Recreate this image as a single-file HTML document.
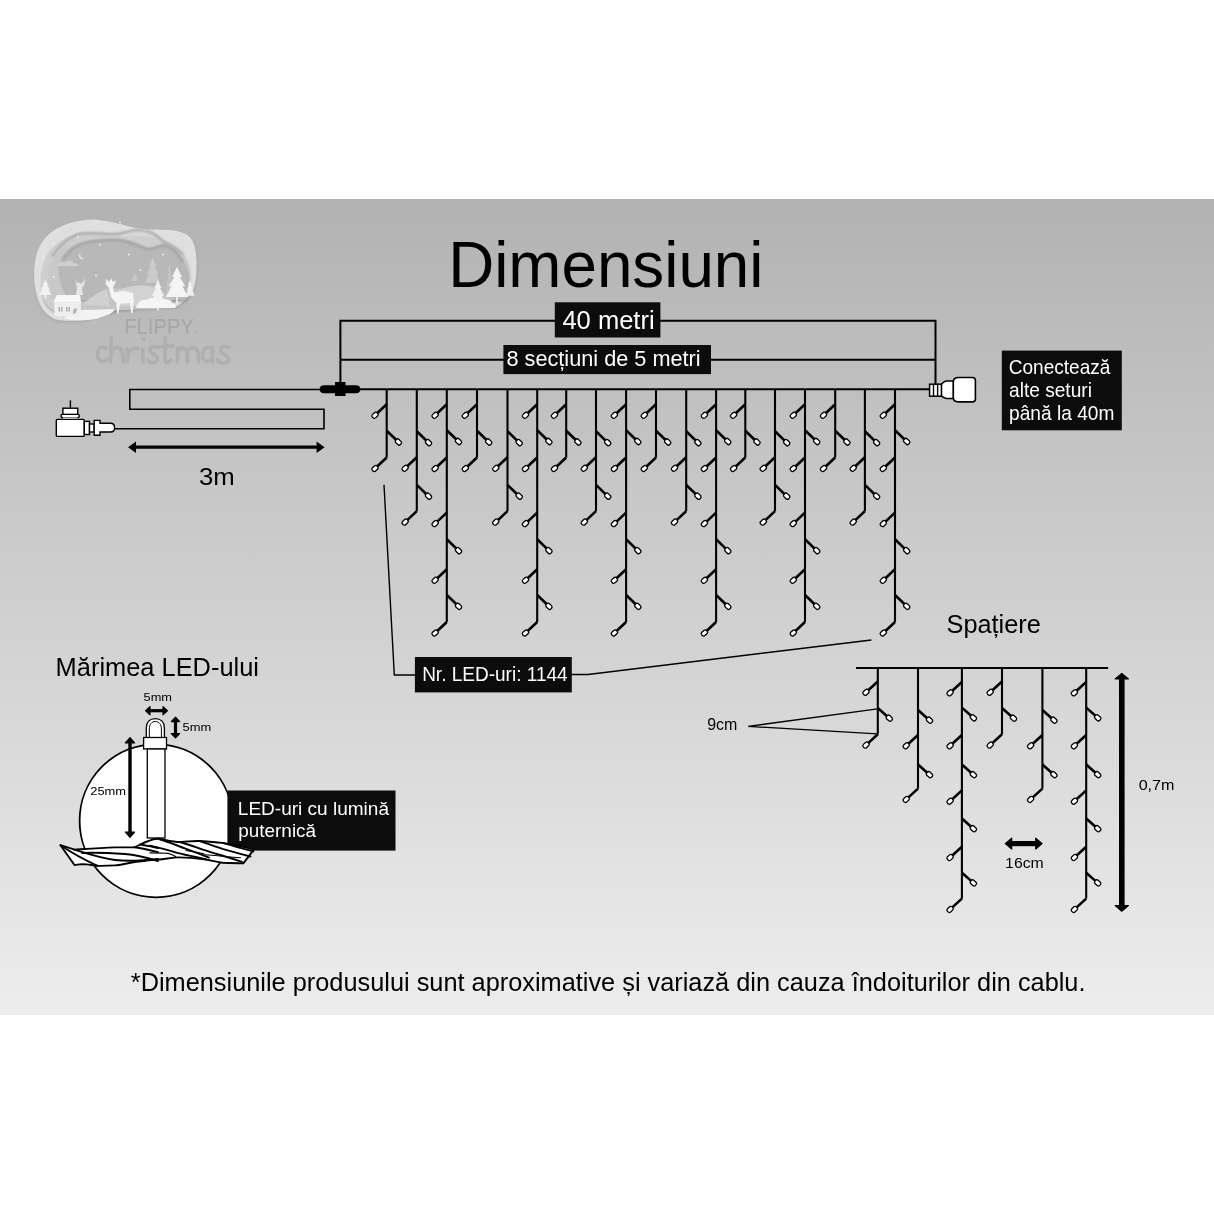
<!DOCTYPE html><html><head><meta charset="utf-8"><style>html,body{margin:0;padding:0;background:#fff;}svg{display:block;will-change:transform;}</style></head><body><svg width="1214" height="1214" viewBox="0 0 1214 1214"><defs><linearGradient id="bg" x1="0" y1="0" x2="0" y2="1"><stop offset="0" stop-color="#b2b2b2"/><stop offset="1" stop-color="#ededed"/></linearGradient><filter id="sh" x="-20%" y="-20%" width="140%" height="140%"><feGaussianBlur stdDeviation="1.5"/></filter><filter id="sh2" x="-10%" y="-50%" width="120%" height="200%"><feGaussianBlur stdDeviation="0.9"/></filter></defs><rect x="0" y="0" width="1214" height="1214" fill="#fff"/><rect x="0" y="199" width="1214" height="816" fill="url(#bg)"/><g><path d="M58 320 C48 318 40 308 37 296 C33 283 33 262 38 250 C42 240 48 234 56 229 C66 223 80 219.4 92 219.4 C102 219.4 112 222 120 224 C130 227 140 229 152 229.5 C165 229.8 180 229 189 236.2 C194 241 196 249 196.5 260 C197 272 196 284 193 290 C191 294 190 296 185 300 C180 305 176 307.5 170 307.8 L120 309 C110 312 96 318 84 320 C74 321 64 321 58 320 Z" fill="#8a8a8a" opacity="0.45" transform="translate(0.6 1.2)" filter="url(#sh)"/><path d="M58 320 C48 318 40 308 37 296 C33 283 33 262 38 250 C42 240 48 234 56 229 C66 223 80 219.4 92 219.4 C102 219.4 112 222 120 224 C130 227 140 229 152 229.5 C165 229.8 180 229 189 236.2 C194 241 196 249 196.5 260 C197 272 196 284 193 290 C191 294 190 296 185 300 C180 305 176 307.5 170 307.8 L120 309 C110 312 96 318 84 320 C74 321 64 321 58 320 Z" fill="#dfdfdf"/><path d="M44 300 C41 288 41 270 46 258 C52 246 64 238 78 233.4 C92 231 104 233.5 113.8 233.4 C124 233 130 229.5 138 229.2 C148 229 156 234 161.2 239 C170 245 178 247 182.6 253.9 C187 262 189 270 189 277 C189 284 189 292 187 296 L150 306 L80 314 C60 316 48 310 44 300 Z" fill="#6f6f6f" opacity="0.6" transform="translate(0.4 1.4)" filter="url(#sh)"/><path d="M44 300 C41 288 41 270 46 258 C52 246 64 238 78 233.4 C92 231 104 233.5 113.8 233.4 C124 233 130 229.5 138 229.2 C148 229 156 234 161.2 239 C170 245 178 247 182.6 253.9 C187 262 189 270 189 277 C189 284 189 292 187 296 L150 306 L80 314 C60 316 48 310 44 300 Z" fill="#cecece"/><path d="M138 229.2 C148 229 156 234 161.2 239 C155 238 148 236 140 236 C132 236 125 237 118 236 C126 234 132 229.5 138 229.2Z" fill="#d8d8d8"/><path d="M50 300 C47 288 47 272 52 262 C56 254 62 248 70 244 C66 252 62 262 60 272 C59 282 62 292 68 300 Z" fill="#c9c9c9"/><path d="M60 272 C59.5 266 60.5 262 62.6 258.6 C68 250 76 244 85.9 241.8 C96 239.5 108 239 119.4 239.5 C130 240 140 246 147.2 248.3 C154 249 158 245 164 244.6 C172 246 178 252 182.6 261.3 C186 268 187.5 272 187.2 277.1 L186 300 L72 300 C66 294 61 284 60 272 Z" fill="#6a6a6a" opacity="0.6" transform="translate(0.3 1.3)" filter="url(#sh)"/><path d="M60 272 C59.5 266 60.5 262 62.6 258.6 C68 250 76 244 85.9 241.8 C96 239.5 108 239 119.4 239.5 C130 240 140 246 147.2 248.3 C154 249 158 245 164 244.6 C172 246 178 252 182.6 261.3 C186 268 187.5 272 187.2 277.1 L186 300 L72 300 C66 294 61 284 60 272 Z" fill="#b8b8b8"/><path d="M62.6 258.6 C68 250 76 244 85.9 241.8 C96 239.5 108 239 119.4 239.5 C130 240 140 246 147.2 248.3 C154 249 158 245 164 244.6 C172 246 178 252 182.6 261.3" fill="none" stroke="#a2a2a2" stroke-width="2.2" filter="url(#sh2)" transform="translate(0 0.8)"/><path d="M52 256 C58 246 66 238 78 233.4 C92 231 104 233.5 113.8 233.4 C124 233 130 229.5 138 229.2 C148 229 156 234 161.2 239 C170 245 178 247 182.6 253.9" fill="none" stroke="#a8a8a8" stroke-width="2" filter="url(#sh2)" transform="translate(0 0.8)"/><path d="M56.5 266 C58 262 62 261 65 262.5 C67 260 72 260.5 74 263 C77 263 78.5 264.5 78 266 Z" fill="#cfcfcf"/><path d="M81.5 253 a3.2 3.2 0 1 0 3.6 4.8 a2.6 2.6 0 0 1 -3.6 -4.8Z" fill="#ececec"/><circle cx="100" cy="244.5" r="0.9" fill="#f0f0f0"/><circle cx="129" cy="254.5" r="0.9" fill="#f0f0f0"/><circle cx="163" cy="254.5" r="0.9" fill="#f0f0f0"/><circle cx="54" cy="244" r="0.9" fill="#f0f0f0"/><circle cx="44" cy="258" r="0.9" fill="#f0f0f0"/><circle cx="54" cy="277" r="0.9" fill="#f0f0f0"/><circle cx="96" cy="275.5" r="0.9" fill="#f0f0f0"/><circle cx="140.5" cy="270" r="0.9" fill="#f0f0f0"/><circle cx="78" cy="237" r="0.9" fill="#f0f0f0"/><circle cx="96" cy="222" r="0.9" fill="#f0f0f0"/><circle cx="120" cy="222.5" r="0.9" fill="#f0f0f0"/><circle cx="173" cy="232" r="0.9" fill="#f0f0f0"/><path d="M152.7 257.6 L156.075 265.88300000000004 L154.575 265.88300000000004 L158.325 273.664 L156.45 273.664 L160.2 282.7 L145.2 282.7 L148.95 273.664 L147.075 273.664 L150.825 265.88300000000004 L149.325 265.88300000000004Z" fill="#cbcbcb"/><path d="M131.4 281 L134.6 272.5 L137.9 281Z" fill="#c8c8c8"/><path d="M164.9 300 L169.5 262.2 L174.2 300Z" fill="#c4c4c4"/><path d="M78 306 C90 300 98 292 106.4 289.3 C112 287 118 288 124 290 C134 286 146 283 160 288 L172 300 L172 308 L78 312Z" fill="#c5c5c5"/><path d="M118 290 C128 286 140 284 152 287 C158 289 160 300 156 306 L118 306Z" fill="#d2d2d2"/><path d="M82 305 C92 296 100 292 106.4 289.3 L110 306 Z" fill="#d0d0d0"/><path d="M157.9 280 L161.5 288.25 L159.9 288.25 L163.9 296.0 L161.9 296.0 L165.9 305 L149.9 305 L153.9 296.0 L151.9 296.0 L155.9 288.25 L154.3 288.25Z" fill="#f2f2f2"/><rect x="157.1" y="305" width="1.6" height="5.5" fill="#f2f2f2"/><path d="M177 267 L181.95 276.9 L179.75 276.9 L185.25 286.2 L182.5 286.2 L188 297 L166 297 L171.5 286.2 L168.75 286.2 L174.25 276.9 L172.05 276.9Z" fill="#f4f4f4"/><rect x="176.2" y="297" width="1.6" height="6.6" fill="#f4f4f4"/><path d="M190 280 L192.025 285.181 L191.125 285.181 L193.375 290.048 L192.25 290.048 L194.5 295.7 L185.5 295.7 L187.75 290.048 L186.625 290.048 L188.875 285.181 L187.975 285.181Z" fill="#f0f0f0"/><path d="M45.3 280 L48.135 284.95 L46.875 284.95 L50.025 289.6 L48.449999999999996 289.6 L51.599999999999994 295 L39.0 295 L42.15 289.6 L40.574999999999996 289.6 L43.724999999999994 284.95 L42.464999999999996 284.95Z" fill="#f2f2f2"/><rect x="44.5" y="295" width="1.6" height="3.3" fill="#f2f2f2"/><path d="M136 308 C137 302 142 299 147 300 C150 297 156 297 159 300 C163 298 170 299 172 303 C175 303 177 306 175 308Z" fill="#f5f5f5"/><path d="M64 318 C70 312 78 309 88 309.8 C96 310 104 309 113.8 309 C116 312 106 316 96 319 C84 321 70 321 64 318Z" fill="#f3f3f3"/><path d="M53.3 302.3 L57 294.9 L80 294.9 L81.2 302.3Z" fill="#f6f6f6"/><rect x="54.3" y="302.3" width="26.6" height="14" fill="#eeeeee"/><rect x="58.5" y="307" width="1.4" height="4.5" fill="#a9a9a9"/><rect x="61" y="307" width="1.4" height="4.5" fill="#a9a9a9"/><rect x="66" y="307" width="1.4" height="4.5" fill="#a9a9a9"/><rect x="68.5" y="307" width="1.4" height="4.5" fill="#a9a9a9"/><path d="M73 313 C73 309 75 307.5 76.5 308.5 C77.5 310 76 313 74 314Z" fill="#b0b0b0"/><path d="M75 278 L77 283 L79 282 L80.5 284 L83 282 L85.5 278 L84 285 L82 288 L83 295 L76 295 L77 288 L76 284Z" fill="#e4e4e4"/><path d="M106.4 279 L109 282 L111 278.5 L113 282 L116 280 L114.5 285 L113 287 L114 292 L124 291 L133 293 L134 300 L132.5 313 L131 313 L130 303 L120 304 L118.5 313.5 L117 313.5 L116.5 303 L111 297 L109 288 L105.5 284Z" fill="#f4f4f4"/><text x="124.14" y="334.20" font-family='"Liberation Sans", sans-serif' font-size="22.53" fill="#a6a6a6" textLength="69.80" lengthAdjust="spacingAndGlyphs" >FLIPPY</text><circle cx="195.3" cy="332.6" r="0.8" fill="#a2a2a2"/><path d="M106 348.5 C103 345.5 97.5 346.5 97.5 354.5 C97.5 362 104 363 108.5 358.5 M111.5 337.5 L110.5 362 M110.8 354 C112.5 347.5 117.5 346 120.5 348.5 C123 351 123 356 123.5 362 M127 349 C127.5 354 127.5 359 127.5 362 M127.5 354 C129.5 349 133 347.5 138 348.5 M142.5 349 L143 362 M158 347.5 C153 345 148 348 151 352 C154 356 159 356 157.5 360 C155.5 364 149.5 363.5 148 360 M165.5 337.5 L164.8 359 C165 363 168.5 363.5 171 360 M159 347 L173 346 M177.5 348 L177.5 362 M177.5 353 C179.5 346.5 186 346.5 187.5 352 L187.5 362 M187.5 352 C189.5 346.5 196.5 346.5 198 352 L198.5 362 M212 350 C208.5 345.5 202.5 347 202.5 355 C202.5 362 209 363 212 358 M212.5 347 L212.5 362 M229 347.5 C223.5 345 218.5 348 221.5 352 C224.5 356 230 356 228.5 360 C226.5 364 219.5 364 217.5 360" fill="none" stroke="#afafaf" stroke-width="3.6" stroke-linecap="round" stroke-linejoin="round"/><circle cx="143.8" cy="339" r="2" fill="#afafaf"/></g><text x="448.17" y="286.60" font-family='"Liberation Sans", sans-serif' font-size="65.12" fill="#000" textLength="315.32" lengthAdjust="spacingAndGlyphs" >Dimensiuni</text><path d="M340.4 389 V320.8 H935.5 V384" stroke="#000" stroke-width="2" fill="none"/><path d="M340.4 359.8 H935.6" stroke="#000" stroke-width="2" fill="none"/><rect x="554.8" y="302.3" width="105.6" height="35.2" fill="#0c0c0c"/><text x="562.41" y="328.80" font-family='"Liberation Sans", sans-serif' font-size="26.31" fill="#fff" textLength="92.21" lengthAdjust="spacingAndGlyphs" >40 metri</text><rect x="503.4" y="345" width="207.6" height="29.1" fill="#0c0c0c"/><text x="506.47" y="365.90" font-family='"Liberation Sans", sans-serif' font-size="21.49" fill="#fff" textLength="194.18" lengthAdjust="spacingAndGlyphs" >8 secțiuni de 5 metri</text><path d="M320 389.3 H929.7" stroke="#000" stroke-width="2" fill="none"/><path d="M322 389.5 H129.8 V409.2 H324 V428.8 H114" stroke="#000" stroke-width="1.6" fill="none"/><path d="M324 385.2 H356 C359 385.2 360.5 387 360.5 389.2 C360.5 391.4 359 393.2 356 393.2 H324 C321 393.2 319.5 391.4 319.5 389.2 C319.5 387 321 385.2 324 385.2 Z" fill="#000"/><rect x="335" y="382" width="10.5" height="14" fill="#000"/><path d="M386.70 389.30V457.50" stroke="#000" stroke-width="2.1" fill="none"/><path d="M386.70 404.30L375.00 415.30" stroke="#000" stroke-width="2.6" fill="none" stroke-linejoin="miter"/><path d="M386.70 430.70L398.40 442.00" stroke="#000" stroke-width="2.6" fill="none" stroke-linejoin="miter"/><path d="M386.70 457.50L375.00 468.50" stroke="#000" stroke-width="2.6" fill="none" stroke-linejoin="miter"/><path d="M416.80 389.30V511.10" stroke="#000" stroke-width="2.1" fill="none"/><path d="M416.80 431.30L428.50 442.60" stroke="#000" stroke-width="2.6" fill="none" stroke-linejoin="miter"/><path d="M416.80 457.30L405.10 468.30" stroke="#000" stroke-width="2.6" fill="none" stroke-linejoin="miter"/><path d="M416.80 484.90L428.50 496.20" stroke="#000" stroke-width="2.6" fill="none" stroke-linejoin="miter"/><path d="M416.80 511.10L405.10 522.10" stroke="#000" stroke-width="2.6" fill="none" stroke-linejoin="miter"/><path d="M446.80 389.30V622.00" stroke="#000" stroke-width="2.1" fill="none"/><path d="M446.80 404.30L435.10 415.30" stroke="#000" stroke-width="2.6" fill="none" stroke-linejoin="miter"/><path d="M446.80 430.20L458.50 441.50" stroke="#000" stroke-width="2.6" fill="none" stroke-linejoin="miter"/><path d="M446.80 457.50L435.10 468.50" stroke="#000" stroke-width="2.6" fill="none" stroke-linejoin="miter"/><path d="M446.80 512.60L435.10 523.60" stroke="#000" stroke-width="2.6" fill="none" stroke-linejoin="miter"/><path d="M446.80 539.30L458.50 550.60" stroke="#000" stroke-width="2.6" fill="none" stroke-linejoin="miter"/><path d="M446.80 569.30L435.10 580.30" stroke="#000" stroke-width="2.6" fill="none" stroke-linejoin="miter"/><path d="M446.80 595.00L458.50 606.30" stroke="#000" stroke-width="2.6" fill="none" stroke-linejoin="miter"/><path d="M446.80 622.00L435.10 633.00" stroke="#000" stroke-width="2.6" fill="none" stroke-linejoin="miter"/><path d="M477.00 389.30V457.50" stroke="#000" stroke-width="2.1" fill="none"/><path d="M477.00 404.30L465.30 415.30" stroke="#000" stroke-width="2.6" fill="none" stroke-linejoin="miter"/><path d="M477.00 430.70L488.70 442.00" stroke="#000" stroke-width="2.6" fill="none" stroke-linejoin="miter"/><path d="M477.00 457.50L465.30 468.50" stroke="#000" stroke-width="2.6" fill="none" stroke-linejoin="miter"/><path d="M507.50 389.30V511.10" stroke="#000" stroke-width="2.1" fill="none"/><path d="M507.50 431.30L519.20 442.60" stroke="#000" stroke-width="2.6" fill="none" stroke-linejoin="miter"/><path d="M507.50 457.30L495.80 468.30" stroke="#000" stroke-width="2.6" fill="none" stroke-linejoin="miter"/><path d="M507.50 484.90L519.20 496.20" stroke="#000" stroke-width="2.6" fill="none" stroke-linejoin="miter"/><path d="M507.50 511.10L495.80 522.10" stroke="#000" stroke-width="2.6" fill="none" stroke-linejoin="miter"/><path d="M537.20 389.30V622.00" stroke="#000" stroke-width="2.1" fill="none"/><path d="M537.20 404.30L525.50 415.30" stroke="#000" stroke-width="2.6" fill="none" stroke-linejoin="miter"/><path d="M537.20 430.20L548.90 441.50" stroke="#000" stroke-width="2.6" fill="none" stroke-linejoin="miter"/><path d="M537.20 457.50L525.50 468.50" stroke="#000" stroke-width="2.6" fill="none" stroke-linejoin="miter"/><path d="M537.20 512.60L525.50 523.60" stroke="#000" stroke-width="2.6" fill="none" stroke-linejoin="miter"/><path d="M537.20 539.30L548.90 550.60" stroke="#000" stroke-width="2.6" fill="none" stroke-linejoin="miter"/><path d="M537.20 569.30L525.50 580.30" stroke="#000" stroke-width="2.6" fill="none" stroke-linejoin="miter"/><path d="M537.20 595.00L548.90 606.30" stroke="#000" stroke-width="2.6" fill="none" stroke-linejoin="miter"/><path d="M537.20 622.00L525.50 633.00" stroke="#000" stroke-width="2.6" fill="none" stroke-linejoin="miter"/><path d="M566.20 389.30V457.50" stroke="#000" stroke-width="2.1" fill="none"/><path d="M566.20 404.30L554.50 415.30" stroke="#000" stroke-width="2.6" fill="none" stroke-linejoin="miter"/><path d="M566.20 430.70L577.90 442.00" stroke="#000" stroke-width="2.6" fill="none" stroke-linejoin="miter"/><path d="M566.20 457.50L554.50 468.50" stroke="#000" stroke-width="2.6" fill="none" stroke-linejoin="miter"/><path d="M596.00 389.30V511.10" stroke="#000" stroke-width="2.1" fill="none"/><path d="M596.00 431.30L607.70 442.60" stroke="#000" stroke-width="2.6" fill="none" stroke-linejoin="miter"/><path d="M596.00 457.30L584.30 468.30" stroke="#000" stroke-width="2.6" fill="none" stroke-linejoin="miter"/><path d="M596.00 484.90L607.70 496.20" stroke="#000" stroke-width="2.6" fill="none" stroke-linejoin="miter"/><path d="M596.00 511.10L584.30 522.10" stroke="#000" stroke-width="2.6" fill="none" stroke-linejoin="miter"/><path d="M626.10 389.30V622.00" stroke="#000" stroke-width="2.1" fill="none"/><path d="M626.10 404.30L614.40 415.30" stroke="#000" stroke-width="2.6" fill="none" stroke-linejoin="miter"/><path d="M626.10 430.20L637.80 441.50" stroke="#000" stroke-width="2.6" fill="none" stroke-linejoin="miter"/><path d="M626.10 457.50L614.40 468.50" stroke="#000" stroke-width="2.6" fill="none" stroke-linejoin="miter"/><path d="M626.10 512.60L614.40 523.60" stroke="#000" stroke-width="2.6" fill="none" stroke-linejoin="miter"/><path d="M626.10 539.30L637.80 550.60" stroke="#000" stroke-width="2.6" fill="none" stroke-linejoin="miter"/><path d="M626.10 569.30L614.40 580.30" stroke="#000" stroke-width="2.6" fill="none" stroke-linejoin="miter"/><path d="M626.10 595.00L637.80 606.30" stroke="#000" stroke-width="2.6" fill="none" stroke-linejoin="miter"/><path d="M626.10 622.00L614.40 633.00" stroke="#000" stroke-width="2.6" fill="none" stroke-linejoin="miter"/><path d="M656.00 389.30V457.50" stroke="#000" stroke-width="2.1" fill="none"/><path d="M656.00 404.30L644.30 415.30" stroke="#000" stroke-width="2.6" fill="none" stroke-linejoin="miter"/><path d="M656.00 430.70L667.70 442.00" stroke="#000" stroke-width="2.6" fill="none" stroke-linejoin="miter"/><path d="M656.00 457.50L644.30 468.50" stroke="#000" stroke-width="2.6" fill="none" stroke-linejoin="miter"/><path d="M686.20 389.30V511.10" stroke="#000" stroke-width="2.1" fill="none"/><path d="M686.20 431.30L697.90 442.60" stroke="#000" stroke-width="2.6" fill="none" stroke-linejoin="miter"/><path d="M686.20 457.30L674.50 468.30" stroke="#000" stroke-width="2.6" fill="none" stroke-linejoin="miter"/><path d="M686.20 484.90L697.90 496.20" stroke="#000" stroke-width="2.6" fill="none" stroke-linejoin="miter"/><path d="M686.20 511.10L674.50 522.10" stroke="#000" stroke-width="2.6" fill="none" stroke-linejoin="miter"/><path d="M716.10 389.30V622.00" stroke="#000" stroke-width="2.1" fill="none"/><path d="M716.10 404.30L704.40 415.30" stroke="#000" stroke-width="2.6" fill="none" stroke-linejoin="miter"/><path d="M716.10 430.20L727.80 441.50" stroke="#000" stroke-width="2.6" fill="none" stroke-linejoin="miter"/><path d="M716.10 457.50L704.40 468.50" stroke="#000" stroke-width="2.6" fill="none" stroke-linejoin="miter"/><path d="M716.10 512.60L704.40 523.60" stroke="#000" stroke-width="2.6" fill="none" stroke-linejoin="miter"/><path d="M716.10 539.30L727.80 550.60" stroke="#000" stroke-width="2.6" fill="none" stroke-linejoin="miter"/><path d="M716.10 569.30L704.40 580.30" stroke="#000" stroke-width="2.6" fill="none" stroke-linejoin="miter"/><path d="M716.10 595.00L727.80 606.30" stroke="#000" stroke-width="2.6" fill="none" stroke-linejoin="miter"/><path d="M716.10 622.00L704.40 633.00" stroke="#000" stroke-width="2.6" fill="none" stroke-linejoin="miter"/><path d="M745.30 389.30V457.50" stroke="#000" stroke-width="2.1" fill="none"/><path d="M745.30 404.30L733.60 415.30" stroke="#000" stroke-width="2.6" fill="none" stroke-linejoin="miter"/><path d="M745.30 430.70L757.00 442.00" stroke="#000" stroke-width="2.6" fill="none" stroke-linejoin="miter"/><path d="M745.30 457.50L733.60 468.50" stroke="#000" stroke-width="2.6" fill="none" stroke-linejoin="miter"/><path d="M775.00 389.30V511.10" stroke="#000" stroke-width="2.1" fill="none"/><path d="M775.00 431.30L786.70 442.60" stroke="#000" stroke-width="2.6" fill="none" stroke-linejoin="miter"/><path d="M775.00 457.30L763.30 468.30" stroke="#000" stroke-width="2.6" fill="none" stroke-linejoin="miter"/><path d="M775.00 484.90L786.70 496.20" stroke="#000" stroke-width="2.6" fill="none" stroke-linejoin="miter"/><path d="M775.00 511.10L763.30 522.10" stroke="#000" stroke-width="2.6" fill="none" stroke-linejoin="miter"/><path d="M805.00 389.30V622.00" stroke="#000" stroke-width="2.1" fill="none"/><path d="M805.00 404.30L793.30 415.30" stroke="#000" stroke-width="2.6" fill="none" stroke-linejoin="miter"/><path d="M805.00 430.20L816.70 441.50" stroke="#000" stroke-width="2.6" fill="none" stroke-linejoin="miter"/><path d="M805.00 457.50L793.30 468.50" stroke="#000" stroke-width="2.6" fill="none" stroke-linejoin="miter"/><path d="M805.00 512.60L793.30 523.60" stroke="#000" stroke-width="2.6" fill="none" stroke-linejoin="miter"/><path d="M805.00 539.30L816.70 550.60" stroke="#000" stroke-width="2.6" fill="none" stroke-linejoin="miter"/><path d="M805.00 569.30L793.30 580.30" stroke="#000" stroke-width="2.6" fill="none" stroke-linejoin="miter"/><path d="M805.00 595.00L816.70 606.30" stroke="#000" stroke-width="2.6" fill="none" stroke-linejoin="miter"/><path d="M805.00 622.00L793.30 633.00" stroke="#000" stroke-width="2.6" fill="none" stroke-linejoin="miter"/><path d="M835.20 389.30V457.50" stroke="#000" stroke-width="2.1" fill="none"/><path d="M835.20 404.30L823.50 415.30" stroke="#000" stroke-width="2.6" fill="none" stroke-linejoin="miter"/><path d="M835.20 430.70L846.90 442.00" stroke="#000" stroke-width="2.6" fill="none" stroke-linejoin="miter"/><path d="M835.20 457.50L823.50 468.50" stroke="#000" stroke-width="2.6" fill="none" stroke-linejoin="miter"/><path d="M864.90 389.30V511.10" stroke="#000" stroke-width="2.1" fill="none"/><path d="M864.90 431.30L876.60 442.60" stroke="#000" stroke-width="2.6" fill="none" stroke-linejoin="miter"/><path d="M864.90 457.30L853.20 468.30" stroke="#000" stroke-width="2.6" fill="none" stroke-linejoin="miter"/><path d="M864.90 484.90L876.60 496.20" stroke="#000" stroke-width="2.6" fill="none" stroke-linejoin="miter"/><path d="M864.90 511.10L853.20 522.10" stroke="#000" stroke-width="2.6" fill="none" stroke-linejoin="miter"/><path d="M895.00 389.30V622.00" stroke="#000" stroke-width="2.1" fill="none"/><path d="M895.00 404.30L883.30 415.30" stroke="#000" stroke-width="2.6" fill="none" stroke-linejoin="miter"/><path d="M895.00 430.20L906.70 441.50" stroke="#000" stroke-width="2.6" fill="none" stroke-linejoin="miter"/><path d="M895.00 457.50L883.30 468.50" stroke="#000" stroke-width="2.6" fill="none" stroke-linejoin="miter"/><path d="M895.00 512.60L883.30 523.60" stroke="#000" stroke-width="2.6" fill="none" stroke-linejoin="miter"/><path d="M895.00 539.30L906.70 550.60" stroke="#000" stroke-width="2.6" fill="none" stroke-linejoin="miter"/><path d="M895.00 569.30L883.30 580.30" stroke="#000" stroke-width="2.6" fill="none" stroke-linejoin="miter"/><path d="M895.00 595.00L906.70 606.30" stroke="#000" stroke-width="2.6" fill="none" stroke-linejoin="miter"/><path d="M895.00 622.00L883.30 633.00" stroke="#000" stroke-width="2.6" fill="none" stroke-linejoin="miter"/><rect x="-3.20" y="-2.25" width="6.4" height="4.5" rx="1.8" transform="translate(375.00 415.30) rotate(136.8)" fill="#fff" stroke="#000" stroke-width="1.3"/><rect x="-3.20" y="-2.25" width="6.4" height="4.5" rx="1.8" transform="translate(398.40 442.00) rotate(44.0)" fill="#fff" stroke="#000" stroke-width="1.3"/><rect x="-3.20" y="-2.25" width="6.4" height="4.5" rx="1.8" transform="translate(375.00 468.50) rotate(136.8)" fill="#fff" stroke="#000" stroke-width="1.3"/><rect x="-3.20" y="-2.25" width="6.4" height="4.5" rx="1.8" transform="translate(428.50 442.60) rotate(44.0)" fill="#fff" stroke="#000" stroke-width="1.3"/><rect x="-3.20" y="-2.25" width="6.4" height="4.5" rx="1.8" transform="translate(405.10 468.30) rotate(136.8)" fill="#fff" stroke="#000" stroke-width="1.3"/><rect x="-3.20" y="-2.25" width="6.4" height="4.5" rx="1.8" transform="translate(428.50 496.20) rotate(44.0)" fill="#fff" stroke="#000" stroke-width="1.3"/><rect x="-3.20" y="-2.25" width="6.4" height="4.5" rx="1.8" transform="translate(405.10 522.10) rotate(136.8)" fill="#fff" stroke="#000" stroke-width="1.3"/><rect x="-3.20" y="-2.25" width="6.4" height="4.5" rx="1.8" transform="translate(435.10 415.30) rotate(136.8)" fill="#fff" stroke="#000" stroke-width="1.3"/><rect x="-3.20" y="-2.25" width="6.4" height="4.5" rx="1.8" transform="translate(458.50 441.50) rotate(44.0)" fill="#fff" stroke="#000" stroke-width="1.3"/><rect x="-3.20" y="-2.25" width="6.4" height="4.5" rx="1.8" transform="translate(435.10 468.50) rotate(136.8)" fill="#fff" stroke="#000" stroke-width="1.3"/><rect x="-3.20" y="-2.25" width="6.4" height="4.5" rx="1.8" transform="translate(435.10 523.60) rotate(136.8)" fill="#fff" stroke="#000" stroke-width="1.3"/><rect x="-3.20" y="-2.25" width="6.4" height="4.5" rx="1.8" transform="translate(458.50 550.60) rotate(44.0)" fill="#fff" stroke="#000" stroke-width="1.3"/><rect x="-3.20" y="-2.25" width="6.4" height="4.5" rx="1.8" transform="translate(435.10 580.30) rotate(136.8)" fill="#fff" stroke="#000" stroke-width="1.3"/><rect x="-3.20" y="-2.25" width="6.4" height="4.5" rx="1.8" transform="translate(458.50 606.30) rotate(44.0)" fill="#fff" stroke="#000" stroke-width="1.3"/><rect x="-3.20" y="-2.25" width="6.4" height="4.5" rx="1.8" transform="translate(435.10 633.00) rotate(136.8)" fill="#fff" stroke="#000" stroke-width="1.3"/><rect x="-3.20" y="-2.25" width="6.4" height="4.5" rx="1.8" transform="translate(465.30 415.30) rotate(136.8)" fill="#fff" stroke="#000" stroke-width="1.3"/><rect x="-3.20" y="-2.25" width="6.4" height="4.5" rx="1.8" transform="translate(488.70 442.00) rotate(44.0)" fill="#fff" stroke="#000" stroke-width="1.3"/><rect x="-3.20" y="-2.25" width="6.4" height="4.5" rx="1.8" transform="translate(465.30 468.50) rotate(136.8)" fill="#fff" stroke="#000" stroke-width="1.3"/><rect x="-3.20" y="-2.25" width="6.4" height="4.5" rx="1.8" transform="translate(519.20 442.60) rotate(44.0)" fill="#fff" stroke="#000" stroke-width="1.3"/><rect x="-3.20" y="-2.25" width="6.4" height="4.5" rx="1.8" transform="translate(495.80 468.30) rotate(136.8)" fill="#fff" stroke="#000" stroke-width="1.3"/><rect x="-3.20" y="-2.25" width="6.4" height="4.5" rx="1.8" transform="translate(519.20 496.20) rotate(44.0)" fill="#fff" stroke="#000" stroke-width="1.3"/><rect x="-3.20" y="-2.25" width="6.4" height="4.5" rx="1.8" transform="translate(495.80 522.10) rotate(136.8)" fill="#fff" stroke="#000" stroke-width="1.3"/><rect x="-3.20" y="-2.25" width="6.4" height="4.5" rx="1.8" transform="translate(525.50 415.30) rotate(136.8)" fill="#fff" stroke="#000" stroke-width="1.3"/><rect x="-3.20" y="-2.25" width="6.4" height="4.5" rx="1.8" transform="translate(548.90 441.50) rotate(44.0)" fill="#fff" stroke="#000" stroke-width="1.3"/><rect x="-3.20" y="-2.25" width="6.4" height="4.5" rx="1.8" transform="translate(525.50 468.50) rotate(136.8)" fill="#fff" stroke="#000" stroke-width="1.3"/><rect x="-3.20" y="-2.25" width="6.4" height="4.5" rx="1.8" transform="translate(525.50 523.60) rotate(136.8)" fill="#fff" stroke="#000" stroke-width="1.3"/><rect x="-3.20" y="-2.25" width="6.4" height="4.5" rx="1.8" transform="translate(548.90 550.60) rotate(44.0)" fill="#fff" stroke="#000" stroke-width="1.3"/><rect x="-3.20" y="-2.25" width="6.4" height="4.5" rx="1.8" transform="translate(525.50 580.30) rotate(136.8)" fill="#fff" stroke="#000" stroke-width="1.3"/><rect x="-3.20" y="-2.25" width="6.4" height="4.5" rx="1.8" transform="translate(548.90 606.30) rotate(44.0)" fill="#fff" stroke="#000" stroke-width="1.3"/><rect x="-3.20" y="-2.25" width="6.4" height="4.5" rx="1.8" transform="translate(525.50 633.00) rotate(136.8)" fill="#fff" stroke="#000" stroke-width="1.3"/><rect x="-3.20" y="-2.25" width="6.4" height="4.5" rx="1.8" transform="translate(554.50 415.30) rotate(136.8)" fill="#fff" stroke="#000" stroke-width="1.3"/><rect x="-3.20" y="-2.25" width="6.4" height="4.5" rx="1.8" transform="translate(577.90 442.00) rotate(44.0)" fill="#fff" stroke="#000" stroke-width="1.3"/><rect x="-3.20" y="-2.25" width="6.4" height="4.5" rx="1.8" transform="translate(554.50 468.50) rotate(136.8)" fill="#fff" stroke="#000" stroke-width="1.3"/><rect x="-3.20" y="-2.25" width="6.4" height="4.5" rx="1.8" transform="translate(607.70 442.60) rotate(44.0)" fill="#fff" stroke="#000" stroke-width="1.3"/><rect x="-3.20" y="-2.25" width="6.4" height="4.5" rx="1.8" transform="translate(584.30 468.30) rotate(136.8)" fill="#fff" stroke="#000" stroke-width="1.3"/><rect x="-3.20" y="-2.25" width="6.4" height="4.5" rx="1.8" transform="translate(607.70 496.20) rotate(44.0)" fill="#fff" stroke="#000" stroke-width="1.3"/><rect x="-3.20" y="-2.25" width="6.4" height="4.5" rx="1.8" transform="translate(584.30 522.10) rotate(136.8)" fill="#fff" stroke="#000" stroke-width="1.3"/><rect x="-3.20" y="-2.25" width="6.4" height="4.5" rx="1.8" transform="translate(614.40 415.30) rotate(136.8)" fill="#fff" stroke="#000" stroke-width="1.3"/><rect x="-3.20" y="-2.25" width="6.4" height="4.5" rx="1.8" transform="translate(637.80 441.50) rotate(44.0)" fill="#fff" stroke="#000" stroke-width="1.3"/><rect x="-3.20" y="-2.25" width="6.4" height="4.5" rx="1.8" transform="translate(614.40 468.50) rotate(136.8)" fill="#fff" stroke="#000" stroke-width="1.3"/><rect x="-3.20" y="-2.25" width="6.4" height="4.5" rx="1.8" transform="translate(614.40 523.60) rotate(136.8)" fill="#fff" stroke="#000" stroke-width="1.3"/><rect x="-3.20" y="-2.25" width="6.4" height="4.5" rx="1.8" transform="translate(637.80 550.60) rotate(44.0)" fill="#fff" stroke="#000" stroke-width="1.3"/><rect x="-3.20" y="-2.25" width="6.4" height="4.5" rx="1.8" transform="translate(614.40 580.30) rotate(136.8)" fill="#fff" stroke="#000" stroke-width="1.3"/><rect x="-3.20" y="-2.25" width="6.4" height="4.5" rx="1.8" transform="translate(637.80 606.30) rotate(44.0)" fill="#fff" stroke="#000" stroke-width="1.3"/><rect x="-3.20" y="-2.25" width="6.4" height="4.5" rx="1.8" transform="translate(614.40 633.00) rotate(136.8)" fill="#fff" stroke="#000" stroke-width="1.3"/><rect x="-3.20" y="-2.25" width="6.4" height="4.5" rx="1.8" transform="translate(644.30 415.30) rotate(136.8)" fill="#fff" stroke="#000" stroke-width="1.3"/><rect x="-3.20" y="-2.25" width="6.4" height="4.5" rx="1.8" transform="translate(667.70 442.00) rotate(44.0)" fill="#fff" stroke="#000" stroke-width="1.3"/><rect x="-3.20" y="-2.25" width="6.4" height="4.5" rx="1.8" transform="translate(644.30 468.50) rotate(136.8)" fill="#fff" stroke="#000" stroke-width="1.3"/><rect x="-3.20" y="-2.25" width="6.4" height="4.5" rx="1.8" transform="translate(697.90 442.60) rotate(44.0)" fill="#fff" stroke="#000" stroke-width="1.3"/><rect x="-3.20" y="-2.25" width="6.4" height="4.5" rx="1.8" transform="translate(674.50 468.30) rotate(136.8)" fill="#fff" stroke="#000" stroke-width="1.3"/><rect x="-3.20" y="-2.25" width="6.4" height="4.5" rx="1.8" transform="translate(697.90 496.20) rotate(44.0)" fill="#fff" stroke="#000" stroke-width="1.3"/><rect x="-3.20" y="-2.25" width="6.4" height="4.5" rx="1.8" transform="translate(674.50 522.10) rotate(136.8)" fill="#fff" stroke="#000" stroke-width="1.3"/><rect x="-3.20" y="-2.25" width="6.4" height="4.5" rx="1.8" transform="translate(704.40 415.30) rotate(136.8)" fill="#fff" stroke="#000" stroke-width="1.3"/><rect x="-3.20" y="-2.25" width="6.4" height="4.5" rx="1.8" transform="translate(727.80 441.50) rotate(44.0)" fill="#fff" stroke="#000" stroke-width="1.3"/><rect x="-3.20" y="-2.25" width="6.4" height="4.5" rx="1.8" transform="translate(704.40 468.50) rotate(136.8)" fill="#fff" stroke="#000" stroke-width="1.3"/><rect x="-3.20" y="-2.25" width="6.4" height="4.5" rx="1.8" transform="translate(704.40 523.60) rotate(136.8)" fill="#fff" stroke="#000" stroke-width="1.3"/><rect x="-3.20" y="-2.25" width="6.4" height="4.5" rx="1.8" transform="translate(727.80 550.60) rotate(44.0)" fill="#fff" stroke="#000" stroke-width="1.3"/><rect x="-3.20" y="-2.25" width="6.4" height="4.5" rx="1.8" transform="translate(704.40 580.30) rotate(136.8)" fill="#fff" stroke="#000" stroke-width="1.3"/><rect x="-3.20" y="-2.25" width="6.4" height="4.5" rx="1.8" transform="translate(727.80 606.30) rotate(44.0)" fill="#fff" stroke="#000" stroke-width="1.3"/><rect x="-3.20" y="-2.25" width="6.4" height="4.5" rx="1.8" transform="translate(704.40 633.00) rotate(136.8)" fill="#fff" stroke="#000" stroke-width="1.3"/><rect x="-3.20" y="-2.25" width="6.4" height="4.5" rx="1.8" transform="translate(733.60 415.30) rotate(136.8)" fill="#fff" stroke="#000" stroke-width="1.3"/><rect x="-3.20" y="-2.25" width="6.4" height="4.5" rx="1.8" transform="translate(757.00 442.00) rotate(44.0)" fill="#fff" stroke="#000" stroke-width="1.3"/><rect x="-3.20" y="-2.25" width="6.4" height="4.5" rx="1.8" transform="translate(733.60 468.50) rotate(136.8)" fill="#fff" stroke="#000" stroke-width="1.3"/><rect x="-3.20" y="-2.25" width="6.4" height="4.5" rx="1.8" transform="translate(786.70 442.60) rotate(44.0)" fill="#fff" stroke="#000" stroke-width="1.3"/><rect x="-3.20" y="-2.25" width="6.4" height="4.5" rx="1.8" transform="translate(763.30 468.30) rotate(136.8)" fill="#fff" stroke="#000" stroke-width="1.3"/><rect x="-3.20" y="-2.25" width="6.4" height="4.5" rx="1.8" transform="translate(786.70 496.20) rotate(44.0)" fill="#fff" stroke="#000" stroke-width="1.3"/><rect x="-3.20" y="-2.25" width="6.4" height="4.5" rx="1.8" transform="translate(763.30 522.10) rotate(136.8)" fill="#fff" stroke="#000" stroke-width="1.3"/><rect x="-3.20" y="-2.25" width="6.4" height="4.5" rx="1.8" transform="translate(793.30 415.30) rotate(136.8)" fill="#fff" stroke="#000" stroke-width="1.3"/><rect x="-3.20" y="-2.25" width="6.4" height="4.5" rx="1.8" transform="translate(816.70 441.50) rotate(44.0)" fill="#fff" stroke="#000" stroke-width="1.3"/><rect x="-3.20" y="-2.25" width="6.4" height="4.5" rx="1.8" transform="translate(793.30 468.50) rotate(136.8)" fill="#fff" stroke="#000" stroke-width="1.3"/><rect x="-3.20" y="-2.25" width="6.4" height="4.5" rx="1.8" transform="translate(793.30 523.60) rotate(136.8)" fill="#fff" stroke="#000" stroke-width="1.3"/><rect x="-3.20" y="-2.25" width="6.4" height="4.5" rx="1.8" transform="translate(816.70 550.60) rotate(44.0)" fill="#fff" stroke="#000" stroke-width="1.3"/><rect x="-3.20" y="-2.25" width="6.4" height="4.5" rx="1.8" transform="translate(793.30 580.30) rotate(136.8)" fill="#fff" stroke="#000" stroke-width="1.3"/><rect x="-3.20" y="-2.25" width="6.4" height="4.5" rx="1.8" transform="translate(816.70 606.30) rotate(44.0)" fill="#fff" stroke="#000" stroke-width="1.3"/><rect x="-3.20" y="-2.25" width="6.4" height="4.5" rx="1.8" transform="translate(793.30 633.00) rotate(136.8)" fill="#fff" stroke="#000" stroke-width="1.3"/><rect x="-3.20" y="-2.25" width="6.4" height="4.5" rx="1.8" transform="translate(823.50 415.30) rotate(136.8)" fill="#fff" stroke="#000" stroke-width="1.3"/><rect x="-3.20" y="-2.25" width="6.4" height="4.5" rx="1.8" transform="translate(846.90 442.00) rotate(44.0)" fill="#fff" stroke="#000" stroke-width="1.3"/><rect x="-3.20" y="-2.25" width="6.4" height="4.5" rx="1.8" transform="translate(823.50 468.50) rotate(136.8)" fill="#fff" stroke="#000" stroke-width="1.3"/><rect x="-3.20" y="-2.25" width="6.4" height="4.5" rx="1.8" transform="translate(876.60 442.60) rotate(44.0)" fill="#fff" stroke="#000" stroke-width="1.3"/><rect x="-3.20" y="-2.25" width="6.4" height="4.5" rx="1.8" transform="translate(853.20 468.30) rotate(136.8)" fill="#fff" stroke="#000" stroke-width="1.3"/><rect x="-3.20" y="-2.25" width="6.4" height="4.5" rx="1.8" transform="translate(876.60 496.20) rotate(44.0)" fill="#fff" stroke="#000" stroke-width="1.3"/><rect x="-3.20" y="-2.25" width="6.4" height="4.5" rx="1.8" transform="translate(853.20 522.10) rotate(136.8)" fill="#fff" stroke="#000" stroke-width="1.3"/><rect x="-3.20" y="-2.25" width="6.4" height="4.5" rx="1.8" transform="translate(883.30 415.30) rotate(136.8)" fill="#fff" stroke="#000" stroke-width="1.3"/><rect x="-3.20" y="-2.25" width="6.4" height="4.5" rx="1.8" transform="translate(906.70 441.50) rotate(44.0)" fill="#fff" stroke="#000" stroke-width="1.3"/><rect x="-3.20" y="-2.25" width="6.4" height="4.5" rx="1.8" transform="translate(883.30 468.50) rotate(136.8)" fill="#fff" stroke="#000" stroke-width="1.3"/><rect x="-3.20" y="-2.25" width="6.4" height="4.5" rx="1.8" transform="translate(883.30 523.60) rotate(136.8)" fill="#fff" stroke="#000" stroke-width="1.3"/><rect x="-3.20" y="-2.25" width="6.4" height="4.5" rx="1.8" transform="translate(906.70 550.60) rotate(44.0)" fill="#fff" stroke="#000" stroke-width="1.3"/><rect x="-3.20" y="-2.25" width="6.4" height="4.5" rx="1.8" transform="translate(883.30 580.30) rotate(136.8)" fill="#fff" stroke="#000" stroke-width="1.3"/><rect x="-3.20" y="-2.25" width="6.4" height="4.5" rx="1.8" transform="translate(906.70 606.30) rotate(44.0)" fill="#fff" stroke="#000" stroke-width="1.3"/><rect x="-3.20" y="-2.25" width="6.4" height="4.5" rx="1.8" transform="translate(883.30 633.00) rotate(136.8)" fill="#fff" stroke="#000" stroke-width="1.3"/><path d="M941.4 384.2 C943 383 944 381 946.5 381 H953.5 V398.4 H946.5 C944 398.4 943 396.5 941.4 396.2 Z" fill="#fff" stroke="#000" stroke-width="1.5" stroke-linejoin="round"/><rect x="929.6" y="384.2" width="11.8" height="12" fill="#fff" stroke="#000" stroke-width="1.5"/><path d="M933.5 384.5V396M937.6 384.5V396" stroke="#000" stroke-width="1.4"/><path d="M953.3 382 C953.3 379 955.5 377.5 958.5 377.5 H972.5 C974.2 377.5 975.4 378.7 975.4 380.5 V399 C975.4 400.7 974.2 401.9 972.5 401.9 H958.5 C955.5 401.9 953.3 400.3 953.3 397.5 Z" fill="#fff" stroke="#000" stroke-width="1.6"/><rect x="1001.8" y="350.6" width="120" height="79.7" fill="#0c0c0c"/><text x="1008.73" y="374.30" font-family='"Liberation Sans", sans-serif' font-size="20.06" fill="#fff" textLength="101.67" lengthAdjust="spacingAndGlyphs" >Conectează</text><text x="1009.00" y="397.00" font-family='"Liberation Sans", sans-serif' font-size="20.06" fill="#fff" textLength="82.89" lengthAdjust="spacingAndGlyphs" >alte seturi</text><text x="1009.08" y="419.60" font-family='"Liberation Sans", sans-serif' font-size="20.06" fill="#fff" textLength="105.29" lengthAdjust="spacingAndGlyphs" >până la 40m</text><g stroke="#000" stroke-width="1.4" fill="#fff"><path d="M70.4 400.3 V408.5" fill="none"/><rect x="62.9" y="408.2" width="14.8" height="6.4"/><rect x="61" y="414.4" width="18.3" height="3.2" rx="1.5"/><rect x="63" y="417.5" width="14.5" height="2" stroke="none"/><rect x="56.3" y="419.4" width="28" height="17" rx="1"/><rect x="84.3" y="421.4" width="5.2" height="13.1"/><rect x="89.5" y="424" width="4.7" height="8"/><path d="M94.2 420.4 H100 V423.3 H110.5 C113.5 423.3 114.6 425.5 114.6 427.7 C114.6 430 113.5 432 110.5 432 H100 V435.2 H94.2 Z"/></g><path d="M135 447.2 H318" stroke="#000" stroke-width="3.2"/><path d="M128 447.2 L136 441.5 L136 453Z M324.6 447.2 L316.6 441.5 L316.6 453Z" fill="#000"/><text x="198.92" y="484.70" font-family='"Liberation Sans", sans-serif' font-size="24.79" fill="#000" textLength="35.78" lengthAdjust="spacingAndGlyphs" >3m</text><path d="M384 484.8 L394.3 675 H415" stroke="#000" stroke-width="1.4" fill="none"/><path d="M571 674.5 H588 L871.4 640" stroke="#000" stroke-width="1.4" fill="none"/><rect x="414.9" y="657" width="156.9" height="35.4" fill="#0c0c0c"/><text x="422.14" y="681.40" font-family='"Liberation Sans", sans-serif' font-size="19.33" fill="#fff" textLength="145.52" lengthAdjust="spacingAndGlyphs" >Nr. LED-uri: 1144</text><text x="55.62" y="675.80" font-family='"Liberation Sans", sans-serif' font-size="25.00" fill="#000" textLength="203.40" lengthAdjust="spacingAndGlyphs" >Mărimea LED-ului</text><circle cx="156.1" cy="820.8" r="76.5" fill="#fff" stroke="#000" stroke-width="1.8"/><g stroke="#000" stroke-width="1.3" fill="#fff"><path d="M146.3 737.5 V728 C146.3 722 150 718.6 155.3 718.6 C160.6 718.6 164.4 722 164.4 728 V737.5"/><path d="M149.3 737 V729 C149.3 724.5 151.5 721.5 155.3 721.5 C159.1 721.5 161.4 724.5 161.4 729 V737" fill="none" stroke-width="1"/><rect x="143.6" y="737.5" width="22.9" height="11.5"/><rect x="147.3" y="749" width="17.7" height="89"/></g><path d="M149 710.7 H164" stroke="#000" stroke-width="3.2"/><path d="M145.6 710.7 L150 706.7 L150 714.7Z M167.4 710.7 L163 706.7 L163 714.7Z" fill="#000" stroke="#000" stroke-width="1.2" stroke-linejoin="round"/><text x="143.59" y="701.10" font-family='"Liberation Sans", sans-serif' font-size="10.90" fill="#000" textLength="28.46" lengthAdjust="spacingAndGlyphs" >5mm</text><path d="M175.5 720.6 V734.5" stroke="#000" stroke-width="3.2"/><path d="M175.5 717.2 L171.29999999999998 721.6 L179.70000000000002 721.6Z M175.5 737.9 L171.29999999999998 733.5 L179.70000000000002 733.5Z" fill="#000" stroke="#000" stroke-width="1.2" stroke-linejoin="round"/><text x="182.48" y="730.50" font-family='"Liberation Sans", sans-serif' font-size="11.63" fill="#000" textLength="28.67" lengthAdjust="spacingAndGlyphs" >5mm</text><path d="M130 742 V833" stroke="#000" stroke-width="3.4"/><path d="M130 737.6 L125.39999999999999 743 L134.6 743Z M130 837.4 L125.39999999999999 832 L134.6 832Z" fill="#000" stroke="#000" stroke-width="1.2" stroke-linejoin="round"/><text x="90.26" y="794.80" font-family='"Liberation Sans", sans-serif' font-size="11.77" fill="#000" textLength="35.80" lengthAdjust="spacingAndGlyphs" >25mm</text><rect x="227.4" y="790.5" width="168.1" height="60.1" fill="#0c0c0c"/><text x="237.84" y="814.80" font-family='"Liberation Sans", sans-serif' font-size="18.17" fill="#fff" textLength="151.17" lengthAdjust="spacingAndGlyphs" >LED-uri cu lumină</text><text x="238.19" y="836.90" font-family='"Liberation Sans", sans-serif' font-size="18.17" fill="#fff" textLength="77.91" lengthAdjust="spacingAndGlyphs" >puternică</text><g stroke="#000" stroke-width="1.9" fill="#fff" stroke-linejoin="round" stroke-linecap="round"><path d="M60.5 845.2 L74.5 849.7 C85 849 100 847.8 115 847.4 C125 847.2 130 847.2 134.6 847.2 C138 846 143 842.5 148.6 841 C152 839.5 155 838.5 159 838.8 C166 840 173 842 179.9 842 C187 841.5 193 840.8 199.8 841 C208 841.5 215 842 222.5 842.9 C234 844.6 244 847 253.8 849.7 L243.3 863.3 C236 863.2 229 863 222.5 862.8 C215 861.5 209 860 204.4 859.2 C195 858 186 857.3 177.2 857.4 C168 858.2 161 859.5 155 859.8 C148 860.2 140 861.5 132.1 862.5 C124 864 118 865.3 115.7 865.4 C108 865.8 102 865.9 97.5 865.8 C92 865.2 87 864.3 82.7 864.1 C79 864.2 76.5 864.7 74.5 865 Z"/><path d="M60.5 845.2 C72 853 85 860 97.5 865.8" fill="none"/><path d="M74.5 849.7 C88 854 100 858 115 860 C128 861.5 140 861 158 859" fill="none"/><path d="M82 853 C95 852.5 110 853 125 854 C138 855 148 858 158 861" fill="none"/><path d="M134.6 847.2 C142 848 150 850 158 852.2" fill="none"/><path d="M140 844.5 C146 845.5 152 846.5 158 848" fill="none"/><path d="M150 845.6 C160 848 170 850.5 177.2 852.8 C186 855 196 857 206 859.2" fill="none"/><path d="M159 839.2 C168 842 177 845.5 186.2 848.8 C195 852 202 855 209 857.6" fill="none"/><path d="M179.9 842 C188 844.5 196 847.3 204.4 850.1 C216 853.8 229 857.5 242 861.8" fill="none"/><path d="M199.8 841 C207 843.5 214 846 222.5 848.8 C232 851.5 241 854 250.5 856.5" fill="none"/><path d="M222.5 842.9 C229 844.8 235 846.4 240.6 847.9 C245 849 249 850.3 253.3 851.5" fill="none"/><path d="M150 852.8 C158 852.8 165 853 168.1 853.3 C171 854 173.5 855 175.4 856.5" fill="none" stroke-width="1.3"/><path d="M204.4 854.7 C215 855.5 228 856.5 240.6 857.8" fill="none" stroke-width="1.1"/><path d="M186 850.5 C192 851.5 198 852.6 204 853.8" fill="none" stroke-width="1.1"/></g><text x="946.56" y="632.60" font-family='"Liberation Sans", sans-serif' font-size="26.50" fill="#000" textLength="94.27" lengthAdjust="spacingAndGlyphs" >Spațiere</text><path d="M856 667.9 H1108.1" stroke="#000" stroke-width="2"/><path d="M877.80 667.90V734.30" stroke="#000" stroke-width="2.1" fill="none"/><path d="M877.80 681.50L866.00 692.30" stroke="#000" stroke-width="2.6" fill="none" stroke-linejoin="miter"/><path d="M877.80 708.00L889.30 718.20" stroke="#000" stroke-width="2.6" fill="none" stroke-linejoin="miter"/><path d="M877.80 734.30L866.00 745.10" stroke="#000" stroke-width="2.6" fill="none" stroke-linejoin="miter"/><path d="M918.00 667.90V788.60" stroke="#000" stroke-width="2.1" fill="none"/><path d="M918.00 710.00L929.50 720.20" stroke="#000" stroke-width="2.6" fill="none" stroke-linejoin="miter"/><path d="M918.00 735.00L906.20 745.80" stroke="#000" stroke-width="2.6" fill="none" stroke-linejoin="miter"/><path d="M918.00 764.50L929.50 774.70" stroke="#000" stroke-width="2.6" fill="none" stroke-linejoin="miter"/><path d="M918.00 788.60L906.20 799.40" stroke="#000" stroke-width="2.6" fill="none" stroke-linejoin="miter"/><path d="M961.90 667.90V898.60" stroke="#000" stroke-width="2.1" fill="none"/><path d="M961.90 682.00L950.10 692.80" stroke="#000" stroke-width="2.6" fill="none" stroke-linejoin="miter"/><path d="M961.90 707.60L973.40 717.80" stroke="#000" stroke-width="2.6" fill="none" stroke-linejoin="miter"/><path d="M961.90 735.00L950.10 745.80" stroke="#000" stroke-width="2.6" fill="none" stroke-linejoin="miter"/><path d="M961.90 764.50L973.40 774.70" stroke="#000" stroke-width="2.6" fill="none" stroke-linejoin="miter"/><path d="M961.90 790.40L950.10 801.20" stroke="#000" stroke-width="2.6" fill="none" stroke-linejoin="miter"/><path d="M961.90 818.50L973.40 828.70" stroke="#000" stroke-width="2.6" fill="none" stroke-linejoin="miter"/><path d="M961.90 846.70L950.10 857.50" stroke="#000" stroke-width="2.6" fill="none" stroke-linejoin="miter"/><path d="M961.90 872.70L973.40 882.90" stroke="#000" stroke-width="2.6" fill="none" stroke-linejoin="miter"/><path d="M961.90 898.60L950.10 909.40" stroke="#000" stroke-width="2.6" fill="none" stroke-linejoin="miter"/><path d="M1002.00 667.90V734.30" stroke="#000" stroke-width="2.1" fill="none"/><path d="M1002.00 681.50L990.20 692.30" stroke="#000" stroke-width="2.6" fill="none" stroke-linejoin="miter"/><path d="M1002.00 708.00L1013.50 718.20" stroke="#000" stroke-width="2.6" fill="none" stroke-linejoin="miter"/><path d="M1002.00 734.30L990.20 745.10" stroke="#000" stroke-width="2.6" fill="none" stroke-linejoin="miter"/><path d="M1042.40 667.90V788.60" stroke="#000" stroke-width="2.1" fill="none"/><path d="M1042.40 710.00L1053.90 720.20" stroke="#000" stroke-width="2.6" fill="none" stroke-linejoin="miter"/><path d="M1042.40 735.00L1030.60 745.80" stroke="#000" stroke-width="2.6" fill="none" stroke-linejoin="miter"/><path d="M1042.40 764.50L1053.90 774.70" stroke="#000" stroke-width="2.6" fill="none" stroke-linejoin="miter"/><path d="M1042.40 788.60L1030.60 799.40" stroke="#000" stroke-width="2.6" fill="none" stroke-linejoin="miter"/><path d="M1086.20 667.90V898.60" stroke="#000" stroke-width="2.1" fill="none"/><path d="M1086.20 682.00L1074.40 692.80" stroke="#000" stroke-width="2.6" fill="none" stroke-linejoin="miter"/><path d="M1086.20 707.60L1097.70 717.80" stroke="#000" stroke-width="2.6" fill="none" stroke-linejoin="miter"/><path d="M1086.20 735.00L1074.40 745.80" stroke="#000" stroke-width="2.6" fill="none" stroke-linejoin="miter"/><path d="M1086.20 764.50L1097.70 774.70" stroke="#000" stroke-width="2.6" fill="none" stroke-linejoin="miter"/><path d="M1086.20 790.40L1074.40 801.20" stroke="#000" stroke-width="2.6" fill="none" stroke-linejoin="miter"/><path d="M1086.20 818.50L1097.70 828.70" stroke="#000" stroke-width="2.6" fill="none" stroke-linejoin="miter"/><path d="M1086.20 846.70L1074.40 857.50" stroke="#000" stroke-width="2.6" fill="none" stroke-linejoin="miter"/><path d="M1086.20 872.70L1097.70 882.90" stroke="#000" stroke-width="2.6" fill="none" stroke-linejoin="miter"/><path d="M1086.20 898.60L1074.40 909.40" stroke="#000" stroke-width="2.6" fill="none" stroke-linejoin="miter"/><rect x="-3.20" y="-2.25" width="6.4" height="4.5" rx="1.8" transform="translate(866.00 692.30) rotate(137.5)" fill="#fff" stroke="#000" stroke-width="1.3"/><rect x="-3.20" y="-2.25" width="6.4" height="4.5" rx="1.8" transform="translate(889.30 718.20) rotate(41.6)" fill="#fff" stroke="#000" stroke-width="1.3"/><rect x="-3.20" y="-2.25" width="6.4" height="4.5" rx="1.8" transform="translate(866.00 745.10) rotate(137.5)" fill="#fff" stroke="#000" stroke-width="1.3"/><rect x="-3.20" y="-2.25" width="6.4" height="4.5" rx="1.8" transform="translate(929.50 720.20) rotate(41.6)" fill="#fff" stroke="#000" stroke-width="1.3"/><rect x="-3.20" y="-2.25" width="6.4" height="4.5" rx="1.8" transform="translate(906.20 745.80) rotate(137.5)" fill="#fff" stroke="#000" stroke-width="1.3"/><rect x="-3.20" y="-2.25" width="6.4" height="4.5" rx="1.8" transform="translate(929.50 774.70) rotate(41.6)" fill="#fff" stroke="#000" stroke-width="1.3"/><rect x="-3.20" y="-2.25" width="6.4" height="4.5" rx="1.8" transform="translate(906.20 799.40) rotate(137.5)" fill="#fff" stroke="#000" stroke-width="1.3"/><rect x="-3.20" y="-2.25" width="6.4" height="4.5" rx="1.8" transform="translate(950.10 692.80) rotate(137.5)" fill="#fff" stroke="#000" stroke-width="1.3"/><rect x="-3.20" y="-2.25" width="6.4" height="4.5" rx="1.8" transform="translate(973.40 717.80) rotate(41.6)" fill="#fff" stroke="#000" stroke-width="1.3"/><rect x="-3.20" y="-2.25" width="6.4" height="4.5" rx="1.8" transform="translate(950.10 745.80) rotate(137.5)" fill="#fff" stroke="#000" stroke-width="1.3"/><rect x="-3.20" y="-2.25" width="6.4" height="4.5" rx="1.8" transform="translate(973.40 774.70) rotate(41.6)" fill="#fff" stroke="#000" stroke-width="1.3"/><rect x="-3.20" y="-2.25" width="6.4" height="4.5" rx="1.8" transform="translate(950.10 801.20) rotate(137.5)" fill="#fff" stroke="#000" stroke-width="1.3"/><rect x="-3.20" y="-2.25" width="6.4" height="4.5" rx="1.8" transform="translate(973.40 828.70) rotate(41.6)" fill="#fff" stroke="#000" stroke-width="1.3"/><rect x="-3.20" y="-2.25" width="6.4" height="4.5" rx="1.8" transform="translate(950.10 857.50) rotate(137.5)" fill="#fff" stroke="#000" stroke-width="1.3"/><rect x="-3.20" y="-2.25" width="6.4" height="4.5" rx="1.8" transform="translate(973.40 882.90) rotate(41.6)" fill="#fff" stroke="#000" stroke-width="1.3"/><rect x="-3.20" y="-2.25" width="6.4" height="4.5" rx="1.8" transform="translate(950.10 909.40) rotate(137.5)" fill="#fff" stroke="#000" stroke-width="1.3"/><rect x="-3.20" y="-2.25" width="6.4" height="4.5" rx="1.8" transform="translate(990.20 692.30) rotate(137.5)" fill="#fff" stroke="#000" stroke-width="1.3"/><rect x="-3.20" y="-2.25" width="6.4" height="4.5" rx="1.8" transform="translate(1013.50 718.20) rotate(41.6)" fill="#fff" stroke="#000" stroke-width="1.3"/><rect x="-3.20" y="-2.25" width="6.4" height="4.5" rx="1.8" transform="translate(990.20 745.10) rotate(137.5)" fill="#fff" stroke="#000" stroke-width="1.3"/><rect x="-3.20" y="-2.25" width="6.4" height="4.5" rx="1.8" transform="translate(1053.90 720.20) rotate(41.6)" fill="#fff" stroke="#000" stroke-width="1.3"/><rect x="-3.20" y="-2.25" width="6.4" height="4.5" rx="1.8" transform="translate(1030.60 745.80) rotate(137.5)" fill="#fff" stroke="#000" stroke-width="1.3"/><rect x="-3.20" y="-2.25" width="6.4" height="4.5" rx="1.8" transform="translate(1053.90 774.70) rotate(41.6)" fill="#fff" stroke="#000" stroke-width="1.3"/><rect x="-3.20" y="-2.25" width="6.4" height="4.5" rx="1.8" transform="translate(1030.60 799.40) rotate(137.5)" fill="#fff" stroke="#000" stroke-width="1.3"/><rect x="-3.20" y="-2.25" width="6.4" height="4.5" rx="1.8" transform="translate(1074.40 692.80) rotate(137.5)" fill="#fff" stroke="#000" stroke-width="1.3"/><rect x="-3.20" y="-2.25" width="6.4" height="4.5" rx="1.8" transform="translate(1097.70 717.80) rotate(41.6)" fill="#fff" stroke="#000" stroke-width="1.3"/><rect x="-3.20" y="-2.25" width="6.4" height="4.5" rx="1.8" transform="translate(1074.40 745.80) rotate(137.5)" fill="#fff" stroke="#000" stroke-width="1.3"/><rect x="-3.20" y="-2.25" width="6.4" height="4.5" rx="1.8" transform="translate(1097.70 774.70) rotate(41.6)" fill="#fff" stroke="#000" stroke-width="1.3"/><rect x="-3.20" y="-2.25" width="6.4" height="4.5" rx="1.8" transform="translate(1074.40 801.20) rotate(137.5)" fill="#fff" stroke="#000" stroke-width="1.3"/><rect x="-3.20" y="-2.25" width="6.4" height="4.5" rx="1.8" transform="translate(1097.70 828.70) rotate(41.6)" fill="#fff" stroke="#000" stroke-width="1.3"/><rect x="-3.20" y="-2.25" width="6.4" height="4.5" rx="1.8" transform="translate(1074.40 857.50) rotate(137.5)" fill="#fff" stroke="#000" stroke-width="1.3"/><rect x="-3.20" y="-2.25" width="6.4" height="4.5" rx="1.8" transform="translate(1097.70 882.90) rotate(41.6)" fill="#fff" stroke="#000" stroke-width="1.3"/><rect x="-3.20" y="-2.25" width="6.4" height="4.5" rx="1.8" transform="translate(1074.40 909.40) rotate(137.5)" fill="#fff" stroke="#000" stroke-width="1.3"/><path d="M877.5 708.8 L748.2 726.4 L877.5 733.9" stroke="#000" stroke-width="1.3" fill="none"/><text x="707.15" y="729.50" font-family='"Liberation Sans", sans-serif' font-size="16.19" fill="#000" textLength="30.21" lengthAdjust="spacingAndGlyphs" >9cm</text><path d="M1121.8 678.0 V906.5999999999999" stroke="#000" stroke-width="5.6"/><path d="M1121.8 673.4 L1115.1999999999998 679.0 L1128.4 679.0Z M1121.8 911.1999999999999 L1115.1999999999998 905.5999999999999 L1128.4 905.5999999999999Z" fill="#000" stroke="#000" stroke-width="1.2" stroke-linejoin="round"/><text x="1138.67" y="789.60" font-family='"Liberation Sans", sans-serif' font-size="14.18" fill="#000" textLength="35.79" lengthAdjust="spacingAndGlyphs" >0,7m</text><path d="M1010.7 843.6 H1036.7" stroke="#000" stroke-width="5.2"/><path d="M1005.3000000000001 843.6 L1011.7 838.2 L1011.7 849.0Z M1042.1000000000001 843.6 L1035.7 838.2 L1035.7 849.0Z" fill="#000" stroke="#000" stroke-width="1.2" stroke-linejoin="round"/><text x="1005.10" y="868.10" font-family='"Liberation Sans", sans-serif' font-size="14.10" fill="#000" textLength="38.65" lengthAdjust="spacingAndGlyphs" >16cm</text><text x="130.79" y="990.50" font-family='"Liberation Sans", sans-serif' font-size="26.31" fill="#000" textLength="954.72" lengthAdjust="spacingAndGlyphs" >*Dimensiunile produsului sunt aproximative și variază din cauza îndoiturilor din cablu.</text></svg></body></html>
